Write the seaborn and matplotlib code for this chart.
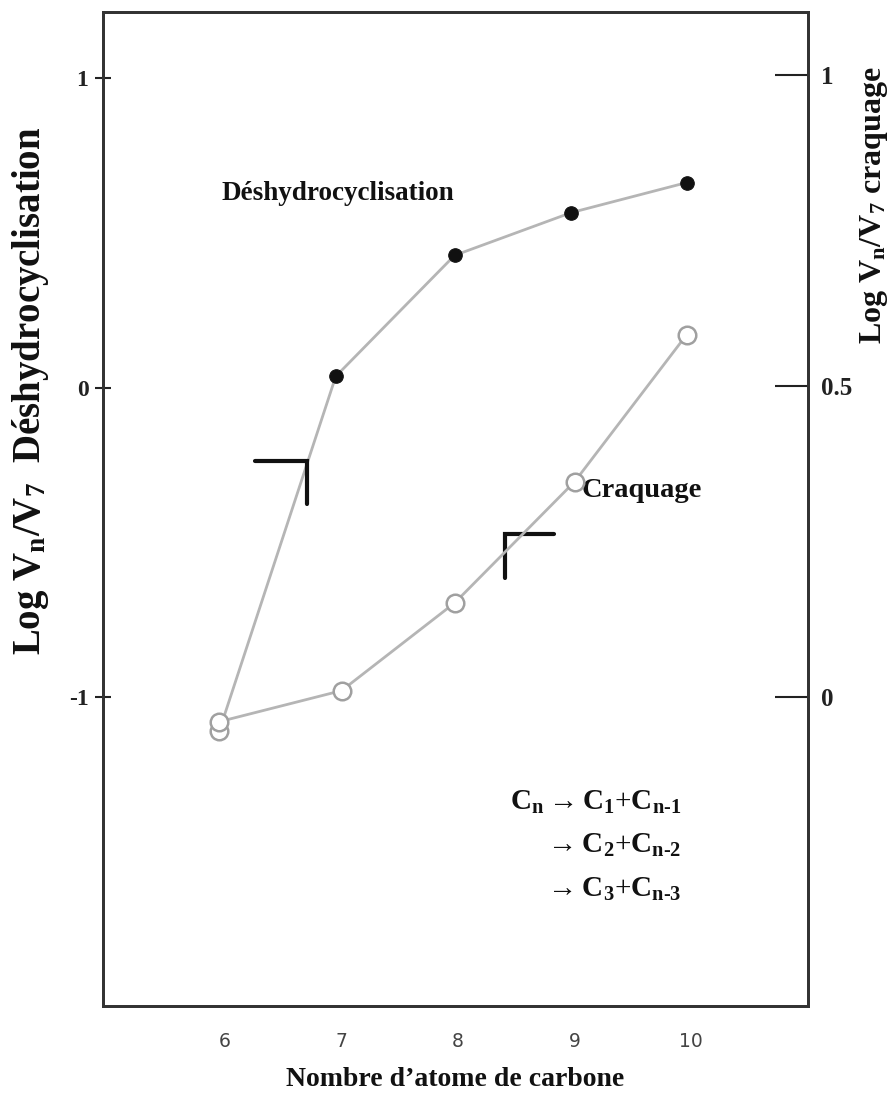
import matplotlib
matplotlib.use("Agg")
import matplotlib.pyplot as plt
import seaborn as sns
import pandas as pd

# Data
carbon_dehydro = [5.95, 6.95, 7.97, 8.97, 9.96]
log_dehydro = [-1.11, 0.036, 0.427, 0.565, 0.662]      # left axis
carbon_crack = [5.95, 7.0, 7.97, 9.0, 9.96]
log_crack = [-0.04, 0.01, 0.151, 0.346, 0.582]          # right axis

x_ticks = [6, 7, 8, 9, 10]
left_ticks = [-1, 0, 1]
left_labels = ["-1", "0", "1"]
right_ticks = [0, 0.5, 1]
right_labels = ["0", "0.5", "1"]

dehydro = pd.DataFrame({"n": carbon_dehydro, "v": log_dehydro})
crack = pd.DataFrame({"n": carbon_crack, "v": log_crack})

sns.set_style("white")
plt.rcParams["font.family"] = ["Liberation Serif", "DejaVu Serif"]
plt.rcParams["mathtext.fontset"] = "custom"
plt.rcParams["mathtext.rm"] = "Liberation Serif:bold"
plt.rcParams["mathtext.bf"] = "Liberation Serif:bold"
plt.rcParams["mathtext.it"] = "Liberation Serif:bold"

fig = plt.figure(figsize=(8.96, 10.97), dpi=100)
ax = fig.add_axes([0.115, 0.083, 0.787, 0.906])
ax2 = ax.twinx()

line_col = "#b5b5b5"
edge_col = "#333333"

# Déshydrocyclisation on the left axis
sns.lineplot(data=dehydro, x="n", y="v", ax=ax, color=line_col, lw=2, zorder=2)
sns.scatterplot(data=dehydro.iloc[1:], x="n", y="v", ax=ax, color="#111111",
                s=95, edgecolor="#111111", zorder=3)
sns.scatterplot(data=dehydro.iloc[:1], x="n", y="v", ax=ax, color="white",
                s=160, edgecolor="#a0a0a0", linewidth=1.8, zorder=3)

# Craquage on the right axis
sns.lineplot(data=crack, x="n", y="v", ax=ax2, color=line_col, lw=2, zorder=2)
sns.scatterplot(data=crack, x="n", y="v", ax=ax2, color="white",
                s=160, edgecolor="#a0a0a0", linewidth=1.8, zorder=3)

ax.set_xlim(4.953, 11.004)
ax.set_ylim(-1.998, 1.213)
ax2.set_ylim(-0.497, 1.101)

ax.set_xticks(x_ticks)
ax.set_xticklabels([str(t) for t in x_ticks], fontfamily="DejaVu Sans",
                   fontsize=13.5, color="#444444")
ax.set_yticks(left_ticks)
ax.set_yticklabels(left_labels, fontsize=17, fontweight="bold", color="#222222")
ax2.set_yticks(right_ticks)
ax2.set_yticklabels(right_labels, fontsize=18, fontweight="bold", color="#222222")

ax.tick_params(axis="x", direction="in", length=10, width=1.5, color="#222222", pad=19)
ax.tick_params(axis="y", direction="inout", length=12, width=1.5, color="#222222", pad=4.5)
ax2.tick_params(axis="y", direction="in", length=24, width=1.5, color="#222222", pad=9)

for a in (ax, ax2):
    a.set_xlabel("")
    a.set_ylabel("")
    for s in a.spines.values():
        s.set_color(edge_col)
        s.set_linewidth(2)

# Axis titles
fig.text(0.508, 0.016, "Nombre d\u2019atome de carbone", ha="center", va="center",
         fontsize=20, fontweight="bold", color="#111111")
fig.text(0.034, 0.644, r"Log V$_\mathbf{n}$/V$_\mathbf{7}$  Déshydrocyclisation",
         rotation=90, ha="center", va="center", fontsize=28, fontweight="bold",
         color="#111111")
fig.text(0.976, 0.813, r"Log V$_\mathbf{n}$/V$_\mathbf{7}$ craquage",
         rotation=90, ha="center", va="center", fontsize=23, fontweight="bold",
         color="#111111")

# Curve labels
ax.text(5.97, 0.627, "Déshydrocyclisation", fontsize=19.5, fontweight="bold",
        color="#111111", va="center")
ax.text(9.06, -0.333, "Craquage", fontsize=20.5, fontweight="bold",
        color="#111111", va="center")

# Axis indicator brackets
ax.plot([6.26, 6.70, 6.70], [-0.236, -0.236, -0.375], color="#111111", lw=3,
        solid_joinstyle="miter")
ax.plot([8.40, 8.40, 8.82], [-0.617, -0.472, -0.472], color="#111111", lw=3,
        solid_joinstyle="miter")

# Cracking scheme
ax.text(8.446, -1.34, r"$\mathbf{C_n \rightarrow C_1}$+$\mathbf{C_{n\text{-}1}}$",
        fontsize=21, color="#111111", va="center")
ax.text(8.73, -1.48, r"$\mathbf{\rightarrow C_2}$+$\mathbf{C_{n\text{-}2}}$",
        fontsize=21, color="#111111", va="center")
ax.text(8.73, -1.62, r"$\mathbf{\rightarrow C_3}$+$\mathbf{C_{n\text{-}3}}$",
        fontsize=21, color="#111111", va="center")

fig.savefig("out.png", dpi=100)
